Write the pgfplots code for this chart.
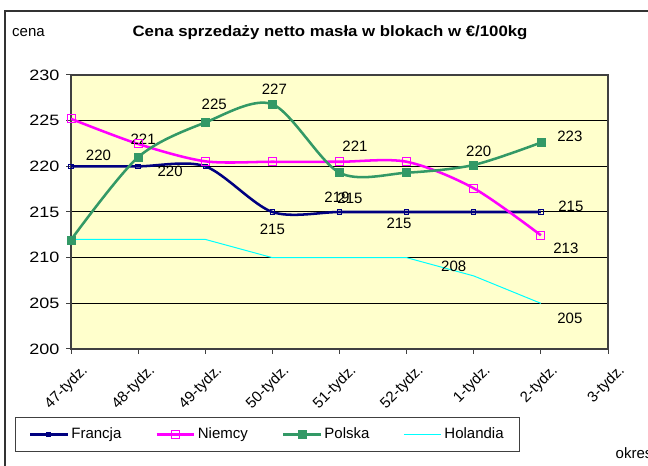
\documentclass[border=0pt]{standalone}
\usepackage{pgfplots}
\pgfplotsset{compat=1.18}
\usepackage{fontspec}
\setmainfont{Liberation Sans}
\newfontfamily\axfont[FakeStretch=1.2]{Liberation Sans}
\newfontfamily\titfont[FakeStretch=1.12]{Liberation Sans}
\definecolor{bgyel}{HTML}{FFFFCC}
\definecolor{fra}{HTML}{000080}
\definecolor{nie}{HTML}{FF00FF}
\definecolor{pol}{HTML}{339966}
\definecolor{hol}{HTML}{00FFFF}
\newcommand\fs{\fontsize{11.25}{13}\selectfont}
% data label: x index, value, dx, dy (px), text
\newcommand\lbl[5]{\node[font=\fs, xshift=#3*0.75pt, yshift=#4*0.75pt] at (axis cs:#1,#2) {#5};}

\begin{document}
\begin{tikzpicture}
\begin{scope}[x=0.75pt,y=0.75pt]
  \useasboundingbox (0,0) rectangle (648,466);
  \draw[line width=1.5pt, black!80] (5,-10) -- (5,455) -- (670,455);
  \node[font=\fs] at (28.5,433) {cena};
  \node[font=\titfont\fs\bfseries] at (330,433) {Cena sprzedaży netto masła w blokach w €/100kg};
  \node[font=\fs, anchor=west] at (611,13) {okres};
\end{scope}
\begin{axis}[at={(53.25pt,87.75pt)}, anchor=south west,
    scale only axis, width=402.75pt, height=205.5pt,
    xmin=0, xmax=8, ymin=200, ymax=230,
    xtick={0,...,8}, ytick={200,205,...,230},
    xticklabels={47-tydz.,48-tydz.,49-tydz.,50-tydz.,51-tydz.,52-tydz.,1-tydz.,2-tydz.,3-tydz.},
    /pgf/number format/assume math mode=true,
    axis background/.style={fill=bgyel},
    axis line style={black!75, line width=1pt},
    ymajorgrids, grid style={black, line width=0.75pt},
    tick align=outside, tick pos=left, major tick length=3.75pt,
    tick style={black!75, line width=0.75pt},
    yticklabel style={font=\axfont\fs, xshift=-1.5pt},
    xticklabel style={font=\fs, rotate=45, anchor=north east, inner sep=1pt, yshift=-9pt, xshift=1pt},
    legend columns=4, legend cell align=left,
    legend style={at={(axis description cs:-0.1043,-0.3759)}, anchor=south west,
      draw=black!75, line width=0.75pt, font=\fs, fill=white,
      inner xsep=10pt, inner ysep=6pt,
      /tikz/every even column/.append style={column sep=23.5pt}},
    legend image code/.code={\draw[mark repeat=2,mark phase=2] plot coordinates {(0pt,0pt) (14pt,0pt) (28pt,0pt)};},
  ]
  \addplot[fra, line width=1.9pt, smooth, mark=square, mark size=1.6pt,
    mark options={line width=0.75pt, fill=bgyel}] coordinates {
    (0,220) (1,220) (2,220) (3,215) (4,215) (5,215) (6,215) (7,215)};
  \addlegendentry{Francja}
  \addplot[nie, line width=1.9pt, smooth, mark=square, mark size=3pt,
    mark options={line width=0.75pt}] coordinates {
    (0,225.2) (1,222.45) (2,220.55) (3,220.5) (4,220.5) (5,220.5) (6,217.6) (7,212.45)};
  \addlegendentry{Niemcy}
  \addplot[pol, line width=1.9pt, smooth, mark=square*, mark size=3pt,
    mark options={line width=0.5pt}] coordinates {
    (0,211.95) (1,221) (2,224.8) (3,226.8) (4,219.3) (5,219.3) (6,220.15) (7,222.6)};
  \addlegendentry{Polska}
  \addplot[hol, line width=0.75pt] coordinates {
    (0,212) (1,212) (2,212) (3,210) (4,210) (5,210) (6,208) (7,205)};
  \addlegendentry{Holandia}
  \lbl{0}{220}{27.5}{11}{220}
  \lbl{1}{221}{5}{18}{221}
  \lbl{1}{220}{32}{-5}{220}
  \lbl{2}{224.8}{9}{18.5}{225}
  \lbl{3}{226.8}{2}{15}{227}
  \lbl{3}{215}{0}{-17}{215}
  \lbl{4}{220.5}{15.5}{15}{221}
  \lbl{4}{219.3}{-2.5}{-25}{219}
  \lbl{4}{215}{10.5}{14}{215}
  \lbl{5}{215}{-7.6}{-11}{215}
  \lbl{6}{220.15}{5}{14}{220}
  \lbl{6}{208}{-20}{10}{208}
  \lbl{7}{222.6}{29}{6.6}{223}
  \lbl{7}{215}{30}{6}{215}
  \lbl{7}{212.45}{25}{-12.7}{213}
  \lbl{7}{205}{29}{-15}{205}
\end{axis}
\end{tikzpicture}
\end{document}
